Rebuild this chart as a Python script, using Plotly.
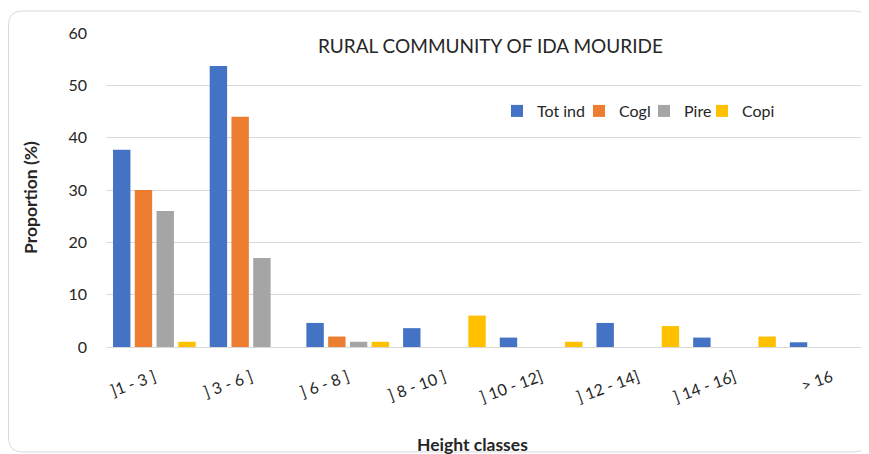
import plotly.graph_objects as go

categories = ["]1 - 3 ]", "] 3 - 6 ]", "] 6 - 8 ]", "] 8 - 10 ]", "] 10 - 12]", "] 12 - 14]", "] 14 - 16]", "> 16"]
tot_ind = [37.7, 53.7, 4.6, 3.6, 1.8, 4.6, 1.8, 0.9]
cogl = [30, 44, 2, 0, 0, 0, 0, 0]
pire = [26, 17, 1, 0, 0, 0, 0, 0]
copi = [1, 0, 1, 6, 1, 4, 2, 0]

series = [("Tot ind", tot_ind, "#4472C4"), ("Cogl", cogl, "#ED7D31"),
          ("Pire", pire, "#A5A5A5"), ("Copi", copi, "#FFC000")]

# page body has an 8px margin: work in window coordinates, shift by OFF
OFF = 8
W, H = 869 - OFF, 454 - OFF
L, R, T, B = 106 - OFF, 866 - OFF, 33 - OFF, 347 - OFF

def px(x):
    return (x - OFF - L) / (R - L)

def py(y):
    return (B - (y - OFF)) / (B - T)

FONT = "Lato"
legend_names = ["legend", "legend2", "legend3", "legend4"]
legend_x = [497, 579, 644, 702]  # left edge of each legend entry (window px)

fig = go.Figure()
for (name, vals, col), lg in zip(series, legend_names):
    fig.add_trace(go.Bar(x=categories, y=vals, name=name, marker_color=col,
                         marker_line_width=0, legend=lg))

# rounded outer border (window coords)
x0, y0, x1, y1, r = 8.5, 11, 868, 452, 14
path = (f"M {px(x0+r)},{py(y0)} L {px(x1-r)},{py(y0)} "
        f"Q {px(x1)},{py(y0)} {px(x1)},{py(y0+r)} "
        f"L {px(x1)},{py(y1-r)} Q {px(x1)},{py(y1)} {px(x1-r)},{py(y1)} "
        f"L {px(x0+r)},{py(y1)} Q {px(x0)},{py(y1)} {px(x0)},{py(y1-r)} "
        f"L {px(x0)},{py(y0+r)} Q {px(x0)},{py(y0)} {px(x0+r)},{py(y0)} Z")

shapes = [
    dict(type="path", path=path, xref="paper", yref="paper",
         line=dict(color="#D9D9D9", width=1), layer="below"),
    dict(type="rect", xref="paper", yref="paper", x0=px(303), x1=px(830),
         y0=py(40), y1=py(26), fillcolor="white", line_width=0, layer="above"),
]

legends = {}
for lg, lx in zip(legend_names, legend_x):
    legends[lg] = dict(orientation="h", x=px(lx), y=py(111), xanchor="left", yanchor="middle",
                       font=dict(size=16, family=FONT, color="#262626"),
                       bgcolor="rgba(0,0,0,0)", itemwidth=30)

fig.update_layout(
    width=W, height=H,
    margin=dict(l=L, r=W - R, t=T, b=H - B, autoexpand=False),
    paper_bgcolor="white", plot_bgcolor="white",
    barmode="group", bargap=0.1, bargroupgap=0.2,
    font=dict(family=FONT, color="#262626"),
    shapes=shapes,
    annotations=[
        dict(text="RURAL COMMUNITY OF IDA MOURIDE", x=px(490), y=py(45), xref="paper", yref="paper",
             xanchor="center", yanchor="middle",
             showarrow=False, font=dict(size=19, family=FONT, color="#262626")),
        dict(text="<b>Height classes</b>", x=px(472), y=py(444), xref="paper", yref="paper",
             xanchor="center", yanchor="middle",
             showarrow=False, font=dict(size=17.5, family=FONT, color="#262626")),
        dict(text="<b>Proportion (%)</b>", x=px(30), y=py(198), xref="paper", yref="paper",
             xanchor="center", yanchor="middle",
             showarrow=False, textangle=-90, font=dict(size=17.5, family=FONT, color="#262626")),
    ],
    showlegend=True,
    **legends,
)
fig.update_xaxes(range=[-0.5, 7.36], tickangle=-20, showgrid=False, showline=True,
                 linecolor="#D9D9D9", linewidth=1, ticks="", ticklabelstandoff=14,
                 tickfont=dict(size=16, family=FONT, color="#262626"))
fig.update_yaxes(range=[0, 60], dtick=10, showgrid=True, gridcolor="#D9D9D9", gridwidth=1,
                 zeroline=False, showline=False, ticks="", ticklabelstandoff=18,
                 tickfont=dict(size=16, family=FONT, color="#262626"))
fig.write_html("out.html")
